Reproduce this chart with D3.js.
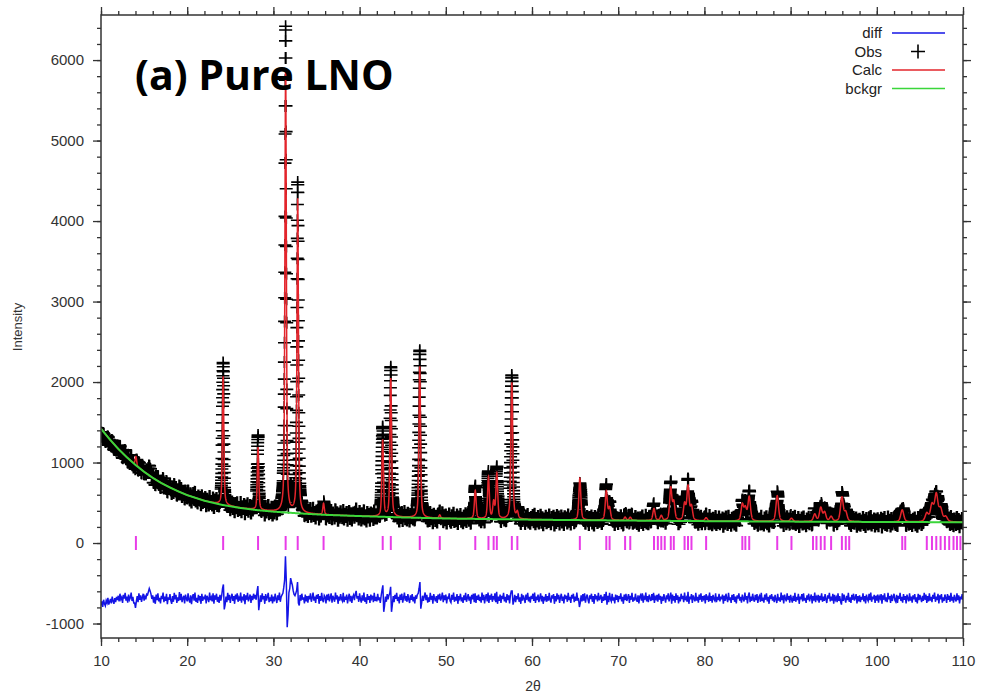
<!DOCTYPE html>
<html>
<head>
<meta charset="utf-8">
<script src="https://cdn.jsdelivr.net/npm/d3@7"></script>
<style>
  body { margin: 0; background: #fff; }
  text { font-family: "Liberation Sans", Arial, Helvetica, sans-serif; }
</style>
</head>
<body>
<svg id="chart" width="984" height="700"></svg>
<script>
// ---- axis tick values ----
const xTickValues = [10, 20, 30, 40, 50, 60, 70, 80, 90, 100, 110];
const yTickValues = [-1000, 0, 1000, 2000, 3000, 4000, 5000, 6000];

// ---- refined background (2θ in degrees, counts) ----
const bgAngles = [10, 11, 12, 13, 14, 15, 16, 17, 18, 19, 20, 22, 24, 26, 28, 30, 33, 36, 40, 45, 50, 60, 70, 80, 90, 100, 110];
const bgCounts = [1420, 1290, 1170, 1065, 970, 885, 810, 745, 690, 640, 595, 525, 475, 438, 410, 390, 368, 350, 335, 318, 305, 290, 280, 272, 266, 262, 258];

// ---- calculated reflections: position (2θ), height above background, FWHM ----
const peakPos = [14.05, 24.17, 28.22, 31.42, 32.82, 35.82, 42.68, 43.62, 46.98, 49.3,
  53.42, 54.95, 55.55, 55.92, 57.66, 58.3, 65.55, 68.62, 69.0, 70.8,
  71.4, 74.15, 75.0, 76.1, 76.45, 77.7, 78.1, 78.5, 80.2, 84.4,
  84.75, 85.2, 88.45, 90.1, 92.8, 93.5, 93.95, 94.7, 95.95, 96.4,
  102.95, 105.8, 106.4, 106.9, 107.4, 108.0];
const peakHeight = [110, 1600, 780, 5510, 3900, 140, 950, 1720, 1880, 40,
  350, 520, 200, 560, 1700, 80, 520, 360, 150, 40,
  40, 150, 60, 400, 220, 200, 420, 170, 40, 200,
  150, 300, 320, 40, 90, 170, 110, 60, 300, 110,
  150, 100, 200, 330, 150, 60];
const peakFwhm = [0.20, 0.20, 0.20, 0.20, 0.20, 0.20, 0.22, 0.22, 0.22, 0.23,
  0.24, 0.24, 0.24, 0.24, 0.25, 0.25, 0.27, 0.28, 0.28, 0.28,
  0.29, 0.30, 0.30, 0.30, 0.30, 0.31, 0.31, 0.31, 0.32, 0.34,
  0.34, 0.34, 0.35, 0.36, 0.37, 0.37, 0.37, 0.38, 0.38, 0.38,
  0.42, 0.44, 0.44, 0.44, 0.45, 0.45];
const peakEta = 0.5; // pseudo-Voigt Lorentzian fraction

// ---- allowed reflection positions (2θ) ----
const reflPos = [14.05, 24.17, 28.22, 31.42, 32.82, 35.82, 42.68, 43.62, 46.98, 49.3,
  53.42, 54.95, 55.55, 55.92, 57.66, 58.3, 65.55, 68.62, 69.0, 70.8,
  71.4, 74.15, 74.6, 75.0, 75.4, 76.1, 76.45, 77.7, 78.1, 78.5,
  80.2, 84.4, 84.75, 85.2, 88.45, 90.1, 92.6, 93.0, 93.5, 93.95,
  94.7, 95.95, 96.4, 96.8, 102.95, 103.3, 105.8, 106.4, 106.9, 107.4,
  107.9, 108.4, 108.9, 109.3, 109.7];

// ---- difference curve: obs - calc every 0.1° from 10° to 110° ----
const diffStart = 10;
const diffStep = 0.1;
const diffOffset = -685;
const diffResidual = [
  -90,-40,-110,-20,-70,-95,-30,-60,5,-80,-45,-10,-65,20,-35,-70,0,-50,15,-25,
  30,-40,55,-15,10,-60,40,-5,65,-30,20,-55,45,-20,5,70,-35,15,-60,-60,
  -120,-40,25,-50,60,-20,35,-45,10,55,-30,20,-15,50,40,80,120,90,50,-10,
  35,-55,15,-70,45,-25,60,-40,5,-65,30,-10,70,-50,20,-35,55,-75,10,-20,
  50,-30,-70,25,-45,65,-15,40,-60,10,-35,75,-25,55,-50,0,30,-65,45,-5,
  -40,60,-20,-55,35,-75,15,50,-30,70,-45,5,-60,40,-10,25,-70,55,-35,20,
  -15,45,-65,30,-5,-50,70,-25,10,-40,60,-70,35,-20,55,-45,15,-60,40,-30,
  30,120,170,-140,-80,20,-50,65,-25,40,-60,10,55,-35,25,-70,45,-15,60,-45,
  5,-30,70,-55,20,-10,50,-75,35,-20,65,-40,0,45,-60,30,-25,55,-5,40,
  -20,80,150,-150,-60,35,-45,60,-15,25,-70,50,-30,15,65,-50,10,-35,45,-65,
  20,-40,55,-10,-60,35,-25,70,-45,15,40,60,130,220,520,200,-360,-200,70,120,
  250,200,160,90,45,30,60,100,200,-60,-90,40,-30,55,-20,10,-65,45,-40,25,
  -55,30,-15,60,-45,5,70,-30,20,-60,40,-10,50,-70,25,-35,65,-20,-50,35,
  15,-65,45,-25,55,-40,10,60,-55,30,-5,-45,70,-15,35,-70,20,-30,50,-10,
  -35,65,-50,20,-20,45,-65,5,55,-40,30,-60,15,40,-25,50,90,-5,25,-45,
  60,-15,-55,35,-30,70,-45,10,-70,50,-20,25,-60,45,-5,30,-50,65,-35,15,
  -40,55,-25,10,-60,30,100,160,-170,-90,20,-45,50,-15,35,60,140,-170,-80,25,
  -50,40,-10,65,-35,15,-65,45,-20,55,-55,5,70,-30,25,-45,50,-15,-60,35,
  -20,50,-40,15,-65,35,-10,45,60,120,200,-130,-60,30,-35,20,70,-25,40,-55,
  10,-45,65,-20,30,-70,50,-5,-40,25,-60,45,-15,55,-30,5,70,-50,35,-25,
  45,-65,20,-10,60,-35,-55,40,-20,70,-45,15,-30,50,-70,25,-5,55,-40,10,
  -60,35,-25,65,-45,5,50,-30,20,-70,40,-15,55,-50,60,-60,30,-20,45,-35,
  15,-55,70,-25,40,-65,10,50,-40,70,-60,35,-20,55,-45,25,-5,60,-50,80,
  -70,20,-35,45,-60,30,-10,65,-40,15,-55,50,-25,35,-65,40,90,90,-80,-30,
  40,-50,25,-15,60,-45,10,-70,55,-30,35,-5,-60,45,-20,65,-40,15,-55,30,
  -10,55,-35,70,-60,20,-25,45,-50,5,60,-40,30,-70,15,-15,50,-45,25,-30,
  65,-20,-55,35,-5,50,-70,25,-40,60,-15,40,-60,10,55,-35,20,-65,45,-10,
  30,-45,65,-25,15,-60,40,-5,55,-50,20,-35,70,-20,-10,-110,-60,35,-40,50,
  -30,60,-55,10,45,-20,-65,35,-10,55,-45,25,-70,50,-15,30,-40,65,-25,5,
  40,-60,20,-35,50,-25,80,-80,30,-50,65,-15,-40,55,-30,10,-65,45,-20,35,
  -50,25,-10,60,-40,15,-70,45,-25,55,-35,5,50,-60,30,-20,65,-45,10,-30,
  55,-15,-45,35,-65,20,40,-30,60,-55,10,-20,70,-40,25,-50,45,-5,-35,50,
  -25,65,-60,15,-10,40,-45,55,-20,30,-70,20,-35,50,-5,-55,35,-15,60,-40,
  10,70,-70,45,-30,25,-55,60,-20,35,-65,15,-40,55,-10,30,-50,70,-25,5,
  -45,80,-70,20,-15,50,-60,35,-5,-40,65,-30,15,-55,45,-20,60,-45,25,-10,
  35,-65,50,-20,10,-45,70,-35,25,-55,40,-10,-30,60,-50,15,-25,55,-40,20,
  -15,45,-70,30,-35,55,-5,-50,65,-25,10,-60,40,-20,50,-45,20,-65,35,-5,
  60,-30,15,-55,45,-10,-40,70,-20,25,-65,35,70,-50,20,-35,55,-15,-45,40,
  -25,50,-60,10,30,-45,65,-35,5,-55,45,-20,60,-40,15,-70,35,-10,50,-30,
  20,-50,40,-15,-60,55,-30,10,-45,70,-25,35,-65,45,-5,-40,60,-20,25,-55,
  40,-10,-55,30,-35,65,-45,15,-25,55,-70,20,-15,50,-40,60,-30,5,-60,35,
  -20,55,-40,10,45,-65,25,-30,70,-50,15,-10,40,-55,30,-25,60,-45,20,-35,
  50,-15,-60,35,-5,65,-40,20,-30,55,-70,40,-20,10,-50,60,-35,25,-45,-80,
  60,-35,45,-15,-55,30,-25,65,-45,10,-60,40,-20,55,-30,5,50,-65,25,-40,
  35,-50,15,-20,60,-40,25,-65,45,-10,-35,55,-25,70,-45,20,-15,40,-60,30,
  -30,45,-55,20,-5,50,-70,35,-20,60,-40,10,-50,65,-15,25,-60,45,-35,15,
  55,-25,-45,40,-60,30,-10,65,-35,15,-55,50,-20,25,-65,45,-5,-40,60,-30,
  20,-55,35,-15,50,-45,10,-65,55,-25,40,-5,-50,30,-35,65,-20,45,-60,25,
  -40,60,-30,15,-50,40,-10,70,-45,20,-25,55,-65,35,-15,50,-55,10,-35,45,
  5,-60,50,-20,30,-45,65,-30,15,-55,40,-10,-40,60,-25,35,-65,20,-15,50,
  -20
];

// measurement step of the scan
const obsStep = 0.01;

// ---- layout ----
const svg = d3.select("#chart");
const plot = { left: 101, right: 963, top: 15, bottom: 638 };

const x = d3.scaleLinear().domain([10, 110]).range([plot.left, plot.right]);
const y = d3.scaleLinear().domain([-1180, 6560]).range([plot.bottom, plot.top]);

// background as a piecewise scale through the refined points
const bg = d3.scaleLinear().domain(bgAngles).range(bgCounts).clamp(true);

function profile(t) {
  let s = 0;
  for (let k = 0; k < peakPos.length; k++) {
    const w = peakFwhm[k];
    const d = (t - peakPos[k]) / w;
    if (Math.abs(d) > 30) continue;
    const lor = 1 / (1 + 4 * d * d);
    const gau = Math.exp(-4 * Math.LN2 * d * d);
    s += peakHeight[k] * (peakEta * lor + (1 - peakEta) * gau);
  }
  return s;
}

const nObs = Math.round((110 - 10) / obsStep);
const scan = d3.range(nObs + 1).map(i => {
  const t = 10 + i * obsStep;
  const back = bg(t);
  const calc = back + profile(t);
  const r = diffResidual[Math.min(diffResidual.length - 1, Math.round((t - diffStart) / diffStep))];
  return { t, back, calc, obs: calc + r };
});

const diffPoints = diffResidual.map((r, i) => ({ t: diffStart + i * diffStep, v: diffOffset + r }));

// ---- clip to the frame ----
svg.append("defs").append("clipPath").attr("id", "frame")
  .append("rect")
  .attr("x", plot.left).attr("y", plot.top)
  .attr("width", plot.right - plot.left).attr("height", plot.bottom - plot.top);

const g = svg.append("g").attr("clip-path", "url(#frame)");

// observed points as "+" markers
let plus = "";
for (const p of scan) {
  const px = x(p.t), py = y(p.obs);
  plus += `M${(px - 6.5).toFixed(1)},${py.toFixed(1)}h13M${px.toFixed(1)},${(py - 6).toFixed(1)}v12`;
}
g.append("path").attr("d", plus)
  .attr("fill", "none").attr("stroke", "#000").attr("stroke-width", 1.6);

// calculated profile
g.append("path").datum(scan)
  .attr("d", d3.line().x(d => x(d.t)).y(d => y(d.calc)))
  .attr("fill", "none").attr("stroke", "#e3242b").attr("stroke-width", 1.5);

// background
g.append("path").datum(scan)
  .attr("d", d3.line().x(d => x(d.t)).y(d => y(d.back)))
  .attr("fill", "none").attr("stroke", "#3ad63a").attr("stroke-width", 2);

// reflection markers
g.append("g").selectAll("line").data(reflPos).join("line")
  .attr("x1", d => x(d)).attr("x2", d => x(d))
  .attr("y1", y(0) - 7).attr("y2", y(0) + 7)
  .attr("stroke", "#e83ce8").attr("stroke-width", 2);

// difference curve
g.append("path").datum(diffPoints)
  .attr("d", d3.line().x(d => x(d.t)).y(d => y(d.v)))
  .attr("fill", "none").attr("stroke", "#1414e6").attr("stroke-width", 1.5);

// ---- axes (ticks outward on all four sides) ----
const axisColor = "#333";
const xMinor = d3.range(10, 110.01, 2);
const yMinor = d3.range(-1000, 6401, 200);
const intFmt = d => String(d); // plain hyphen for negatives

function styleAxis(sel) {
  sel.select(".domain").remove();
  sel.selectAll("line").attr("stroke", axisColor).attr("stroke-width", 1.3);
  sel.selectAll("text").attr("fill", "#333").style("font-size", "15px")
    .style("font-family", '"Liberation Sans", Arial, sans-serif');
}

svg.append("g").attr("transform", `translate(0,${plot.bottom})`)
  .call(d3.axisBottom(x).tickValues(xMinor).tickSize(4).tickFormat("")).call(styleAxis);
svg.append("g").attr("transform", `translate(0,${plot.bottom})`)
  .call(d3.axisBottom(x).tickValues(xTickValues).tickSize(8).tickPadding(9).tickFormat(intFmt))
  .call(styleAxis);
svg.append("g").attr("transform", `translate(0,${plot.top})`)
  .call(d3.axisTop(x).tickValues(xMinor).tickSize(4).tickFormat("")).call(styleAxis);
svg.append("g").attr("transform", `translate(0,${plot.top})`)
  .call(d3.axisTop(x).tickValues(xTickValues).tickSize(8).tickFormat("")).call(styleAxis);

svg.append("g").attr("transform", `translate(${plot.left},0)`)
  .call(d3.axisLeft(y).tickValues(yMinor).tickSize(4).tickFormat("")).call(styleAxis);
svg.append("g").attr("transform", `translate(${plot.left},0)`)
  .call(d3.axisLeft(y).tickValues(yTickValues).tickSize(8).tickPadding(9).tickFormat(intFmt))
  .call(styleAxis);
svg.append("g").attr("transform", `translate(${plot.right},0)`)
  .call(d3.axisRight(y).tickValues(yMinor).tickSize(4).tickFormat("")).call(styleAxis);
svg.append("g").attr("transform", `translate(${plot.right},0)`)
  .call(d3.axisRight(y).tickValues(yTickValues).tickSize(8).tickFormat("")).call(styleAxis);

// frame
svg.append("rect")
  .attr("x", plot.left).attr("y", plot.top)
  .attr("width", plot.right - plot.left).attr("height", plot.bottom - plot.top)
  .attr("fill", "none").attr("stroke", axisColor).attr("stroke-width", 1.5);

// axis titles
svg.append("text").attr("x", 533).attr("y", 691).attr("text-anchor", "middle")
  .attr("fill", "#333").style("font-size", "14px").text("2θ");
svg.append("text").attr("transform", "translate(22,327) rotate(-90)")
  .attr("text-anchor", "middle").attr("fill", "#333").style("font-size", "13px").text("Intensity");

// ---- legend ----
const legend = svg.append("g");
const legendItems = [
  { label: "diff", kind: "line", color: "#1414e6" },
  { label: "Obs", kind: "plus", color: "#000" },
  { label: "Calc", kind: "line", color: "#e3242b" },
  { label: "bckgr", kind: "line", color: "#3ad63a" }
];
legendItems.forEach((it, i) => {
  const ly = 33 + i * 18.5;
  legend.append("text").attr("x", 882).attr("y", ly).attr("dy", "0.35em")
    .attr("text-anchor", "end").attr("fill", "#222").style("font-size", "15px").text(it.label);
  if (it.kind === "line") {
    legend.append("line").attr("x1", 892).attr("x2", 945).attr("y1", ly).attr("y2", ly)
      .attr("stroke", it.color).attr("stroke-width", 1.6);
  } else {
    legend.append("path").attr("d", `M911,${ly}h14M918,${ly - 7}v14`)
      .attr("stroke", it.color).attr("stroke-width", 1.6).attr("fill", "none");
  }
});

// ---- panel title ----
svg.append("text").attr("x", 135).attr("y", 90)
  .style("font-family", '"Open Sans", sans-serif').style("font-weight", 700)
  .style("font-size", "41px").attr("fill", "#000").text("(a) Pure LNO");
</script>
</body>
</html>
